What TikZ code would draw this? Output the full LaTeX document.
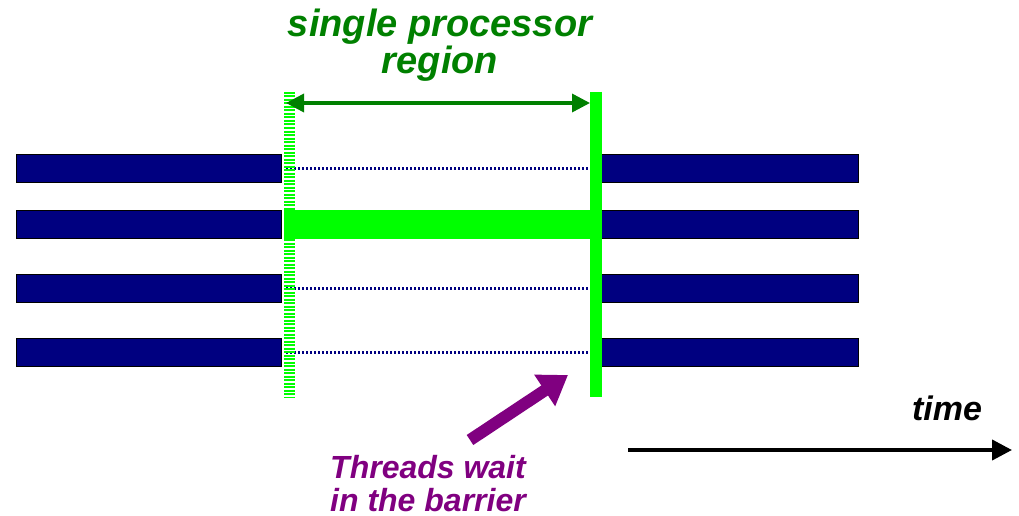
\documentclass[tikz,border=0pt]{standalone}
\usepackage{fontspec}
\setmainfont{Liberation Sans}
\usetikzlibrary{arrows.meta}
\definecolor{barnavy}{RGB}{0,0,128}
\definecolor{barrgreen}{RGB}{0,255,0}
\definecolor{labelgreen}{RGB}{0,128,0}
\definecolor{waitpurple}{RGB}{128,0,128}
\tikzset{
    threadbar/.style={draw=black, line width=1pt, fill=barnavy, anchor=west,
        minimum height=28pt, inner sep=0pt},
    idle/.style={barnavy, line width=3pt, dash pattern=on 2pt off 2pt},
    labeltext/.style={font=\fontsize{38}{35}\selectfont\bfseries\itshape, align=center, inner sep=0pt}
}
\begin{document}
\begin{tikzpicture}[x=1pt, y=-1pt]
        \useasboundingbox (0,0) rectangle (1019,516);
        % Thread bars
        \foreach \y/\n in {168/1, 224/2, 288.5/3, 352/4} {
            \node[threadbar, minimum width=265pt] (L\n) at (16,\y) {};
            \node[threadbar, minimum width=257pt] (R\n) at (601,\y) {};
        }
        % Idle threads
        \foreach \n in {1,3,4} {
            \draw[idle] ([xshift=4pt]L\n.east) -- ([xshift=-12pt]R\n.west);
        }
        % Single thread working
        \fill[barrgreen] ([xshift=2pt]L2.north east) rectangle ([xshift=-8pt]R2.south west);

        % Start and barrier
        \coordinate (starttop) at (289,92);
        \coordinate (startbot) at (289,397);
        \coordinate (bartop) at (596,92);
        \coordinate (barbot) at (596,397);
        \draw[barrgreen, line width=11pt, dash pattern=on 2pt off 1.5pt] (starttop) -- (startbot);
        \draw[barrgreen, line width=12pt] (bartop) -- (barbot);

        % Region label
        \draw[labelgreen, line width=3.5pt, {Triangle[length=18pt,width=18pt]}-{Triangle[length=18pt,width=18pt]}]
            ([shift={(-3,11)}]starttop) -- ([shift={(-6,11)}]bartop);
        \node[labeltext, text=labelgreen] (region) at (440,45) {single processor\\region};

        % Waiting threads
        \node[labeltext, text=waitpurple, font=\fontsize{32}{33}\selectfont\bfseries\itshape] (wait) at (428,484) {Threads wait\\in the barrier};
        \coordinate (waittip) at (568,375);
        \draw[waitpurple, line width=12pt, -{Triangle[length=28pt,width=36pt]}] (470,440) -- (waittip);

        % Time axis
        \coordinate (tstart) at (628,450);
        \coordinate (tend) at (1012,450);
        \draw[line width=4pt, -{Triangle[length=20pt,width=20pt]}] (tstart) -- (tend);
        \node[labeltext, font=\fontsize{34}{34}\selectfont\bfseries\itshape, anchor=base] (time) at (947,420) {time};
    \end{tikzpicture}
\end{document}
